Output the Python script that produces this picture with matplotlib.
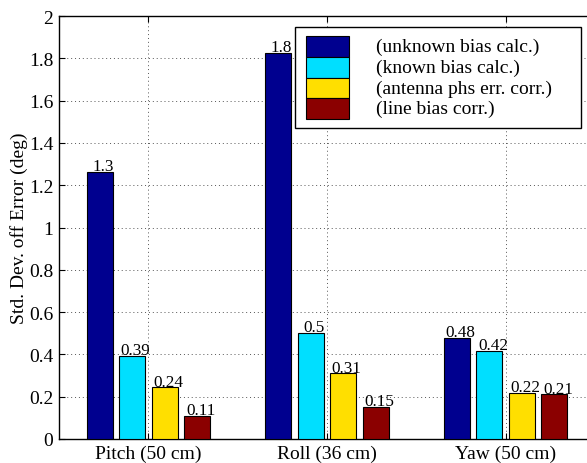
import matplotlib
matplotlib.use("Agg")
import matplotlib.pyplot as plt
from matplotlib.patches import Rectangle
from matplotlib.container import BarContainer
from matplotlib.legend_handler import HandlerPatch, update_from_first_child
import numpy as np

plt.rcParams['font.family'] = ['Liberation Serif', 'DejaVu Serif']

categories = ["Pitch (50 cm)", "Roll (36 cm)", "Yaw (50 cm)"]
series_names = ["(unknown bias calc.)", "(known bias calc.)",
                "(antenna phs err. corr.)", "(line bias corr.)"]
unknown_bias = [1.264, 1.825, 0.478]
known_bias = [0.391, 0.501, 0.417]
antenna_phase = [0.244, 0.310, 0.219]
line_bias = [0.109, 0.153, 0.211]
series = [unknown_bias, known_bias, antenna_phase, line_bias]
colors = ["#00008F", "#00DFFF", "#FFDF00", "#8B0000"]
yticks = [0, 0.2, 0.4, 0.6, 0.8, 1, 1.2, 1.4, 1.6, 1.8, 2]
ytick_labels = ["0", "0.2", "0.4", "0.6", "0.8", "1", "1.2", "1.4", "1.6", "1.8", "2"]

W, H = 587, 464
fig = plt.figure(figsize=(W / 100, H / 100), dpi=100)
# axes extends slightly past the right edge of the canvas
ax = fig.add_axes([59 / W, (H - 440) / H, (595 - 59) / W, (440 - 17) / H])

x = np.arange(1, len(categories) + 1)
step = 0.182
width = 0.146
offsets = (np.arange(4) - 1.5) * step

handles = []
for vals, off, col, name in zip(series, offsets, colors, series_names):
    b = ax.bar(x + off, vals, width, color=col, edgecolor="black",
               linewidth=0.8, label=name, zorder=3)
    handles.append(b)
    for xi, v in zip(x + off, vals):
        ax.annotate(f"{v:.2g}", (xi, v), xytext=(2.5, 1.3),
                    textcoords="offset points", ha="center", va="baseline",
                    fontsize=12.3, zorder=4)

ax.set_xlim(0.5, 3.5)
ax.set_ylim(0, 2)
ax.set_xticks(x)
ax.set_xticklabels(categories, fontsize=14)
ax.set_yticks(yticks)
ax.set_yticklabels(ytick_labels, fontsize=14)
ax.tick_params(direction="in", length=4, width=0.8, top=True, right=False,
               pad=4)
ax.grid(True, linestyle=(0, (1, 3)), color="#555555", linewidth=0.7, zorder=0)
for s in ax.spines.values():
    s.set_linewidth(1.0)
ax.spines["right"].set_visible(False)

ax.set_ylabel("Std. Dev. off Error (deg)", fontsize=14, labelpad=1)

# legend swatches stacked edge to edge
LEG_FS = 14.0
LS = 0.15
ROW_PT = 14.83


def stacked_swatch(legend, orig_handle, xdescent, ydescent, width, height,
                   fontsize):
    center = 0.24 * fontsize
    return Rectangle((-xdescent, center - ROW_PT / 2), width, ROW_PT)


x0 = (295 - 59) / (595 - 59)
w = (581 - 295) / (595 - 59)
top = (440 - 28) / (440 - 17)
leg = ax.legend(handles=handles, loc="upper left",
                bbox_to_anchor=(x0, top - 0.3, w, 0.3), mode="expand",
                fontsize=LEG_FS, frameon=True, fancybox=False,
                edgecolor="black", framealpha=1, labelspacing=LS,
                handlelength=2.22, handleheight=0.7, handletextpad=1.39,
                borderpad=0.55, borderaxespad=0,
                handler_map={BarContainer: HandlerPatch(
                    patch_func=stacked_swatch,
                    update_func=update_from_first_child)})
leg.get_frame().set_linewidth(1.0)

fig.savefig("out.png", dpi=100)
